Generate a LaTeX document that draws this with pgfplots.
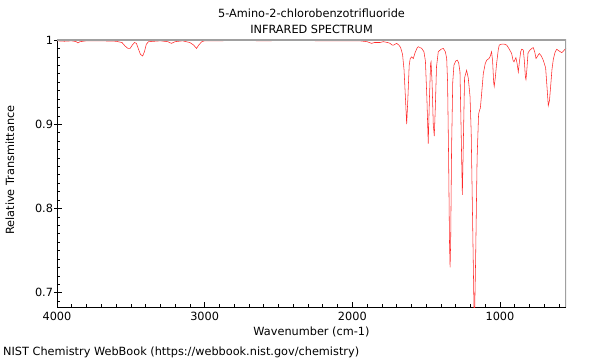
\documentclass[border=0pt]{standalone}
\usepackage{fontspec}
\setmainfont{DejaVu Sans}
\usepackage{pgfplots}
\pgfplotsset{compat=1.18}
\definecolor{framegray}{RGB}{160,160,160}
\definecolor{specred}{RGB}{255,40,40}
\begin{document}
\fontsize{11.3bp}{13.5bp}\selectfont
\begin{tikzpicture}[x=1bp,y=1bp]
\useasboundingbox (0,0) rectangle (600,360);
\begin{axis}[
  at={(57bp,53bp)}, anchor=south west,
  scale only axis, width=509bp, height=267bp,
  x dir=reverse, xmin=553, xmax=4000, ymin=0.683, ymax=1.0,
  axis lines=left, axis line style={-, black, line width=0.8pt},
  xtick={1000,2000,3000,4000},
  minor xtick={600,700,...,3900},
  ytick={0.7,0.8,0.9,1},
  yticklabels={0.7,0.8,0.9,1},
  minor ytick={0.69,0.70,...,0.99},
  tick align=inside,
  major tick length=5bp, minor tick length=3bp,
  tick style={black, line width=0.6pt},
  extra y ticks={0.7,0.8,0.9,1},
  extra y tick labels={},
  extra y tick style={tick align=outside, major tick length=3bp},
  /pgf/number format/assume math mode=true,
  /pgf/number format/1000 sep={},
  ticklabel style={font=\fontsize{11.3bp}{13.5bp}\selectfont},
  xticklabel style={yshift=-1bp},
  scaled ticks=false,
  clip=true,
]
\addplot[specred, line width=0.55pt] coordinates {
(4000,0.999) (3950,0.9985) (3900,0.999) (3870,0.998) (3858,0.9965) (3845,0.998)
(3800,0.999) (3700,0.999) (3600,0.9985) (3560,0.997) (3540,0.993) (3520,0.990)
(3505,0.990) (3490,0.994) (3475,0.997) (3462,0.996) (3450,0.990) (3435,0.983)
(3420,0.981) (3408,0.986) (3395,0.995) (3380,0.998) (3300,0.999) (3250,0.998)
(3225,0.996) (3200,0.998) (3150,0.999) (3100,0.997) (3075,0.994) (3055,0.990)
(3040,0.994) (3020,0.998) (3000,0.999) (2900,0.999) (2800,0.9995) (2600,0.999)
(2400,0.9995) (2200,0.999) (2050,0.999) (1950,0.999) (1900,0.998) (1870,0.996)
(1850,0.997) (1830,0.997) (1813,0.997) (1790,0.998) (1760,0.997) (1745,0.996)
(1730,0.994) (1720,0.994) (1700,0.996) (1685,0.994) (1673,0.991) (1660,0.983)
(1650,0.965) (1640,0.93) (1632,0.900) (1624,0.93) (1615,0.97) (1608,0.978)
(1598,0.980) (1587,0.978) (1575,0.985) (1560,0.991) (1553,0.992) (1530,0.990)
(1515,0.986) (1505,0.975) (1495,0.93) (1486,0.877) (1478,0.93) (1470,0.972)
(1467,0.974) (1460,0.95) (1452,0.90) (1445,0.886) (1438,0.92) (1430,0.968)
(1418,0.986) (1400,0.989) (1384,0.990) (1370,0.986) (1361,0.978) (1355,0.95)
(1348,0.86) (1342,0.76) (1338,0.730) (1334,0.76) (1328,0.87) (1320,0.95)
(1312,0.970) (1300,0.975) (1289,0.976) (1280,0.973) (1271,0.962) (1264,0.90)
(1255,0.816) (1248,0.88) (1240,0.955) (1226,0.964) (1215,0.955) (1203,0.933)
(1195,0.89) (1185,0.78) (1176,0.68) (1172,0.672) (1165,0.74) (1155,0.86)
(1145,0.912) (1138,0.917) (1133,0.919) (1125,0.935) (1113,0.960) (1100,0.972)
(1090,0.976) (1075,0.978) (1068,0.980) (1057,0.986) (1050,0.975) (1043,0.95)
(1039,0.945) (1032,0.955) (1023,0.972) (1012,0.988) (1005,0.994) (990,0.995)
(970,0.995) (955,0.994) (940,0.990) (921,0.984) (912,0.976) (905,0.974)
(898,0.977) (892,0.979) (884,0.972) (876,0.962) (868,0.975) (860,0.986)
(853,0.989) (842,0.988) (835,0.975) (828,0.956) (824,0.953) (818,0.965)
(810,0.985) (797,0.988) (785,0.990) (775,0.991) (765,0.986) (756,0.978)
(745,0.981) (734,0.984) (720,0.981) (707,0.976) (698,0.971) (691,0.967)
(682,0.945) (673,0.922) (665,0.928) (657,0.945) (648,0.965) (639,0.977)
(628,0.985) (616,0.989) (600,0.987) (582,0.985) (570,0.987) (560,0.989) (553,0.990)
};
\draw[framegray, line width=1.2pt] (rel axis cs:0,1) -- (rel axis cs:1,1) -- (rel axis cs:1,0);
\end{axis}
\node at (311.5,347) {5-Amino-2-chlorobenzotrifluoride};
\node at (311.5,331) {INFRARED SPECTRUM};
\node at (311.5,28) {Wavenumber (cm-1)};
\node[rotate=90] at (10,190) {Relative Transmittance};
\node[anchor=west, inner sep=0pt] at (3,8) {NIST Chemistry WebBook (https://webbook.nist.gov/chemistry)};
\end{tikzpicture}
\end{document}
